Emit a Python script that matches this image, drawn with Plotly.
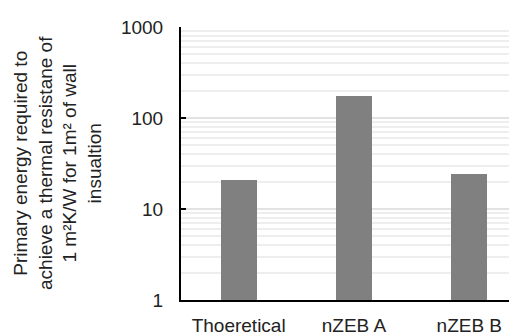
import plotly.graph_objects as go

categories = ["Thoeretical", "nZEB A", "nZEB B"]
values = [21, 173, 24]
y_tick_vals = [1, 10, 100, 1000]
y_tick_text = ["1", "10", "100", "1000"]
minor_vals = [m * d for d in (1, 10, 100) for m in range(2, 10)]
y_title = ("Primary energy required to<br>achieve a thermal resistane of<br>"
           "1 m²K/W for 1m² of wall<br>insualtion")

FONT = "Liberation Sans, Arial, sans-serif"

# the page body has an 8px default margin, so the figure is offset by 8px
W, H = 509, 328
ML, MT, MB, MR = 173, 19, 36, 1
plot_w = W - ML - MR

fig = go.Figure(go.Bar(
    x=categories, y=values,
    marker=dict(color="#808080", line=dict(width=0)),
    width=0.31,
))

fig.update_layout(
    width=W, height=H,
    margin=dict(l=ML, r=MR, t=MT, b=MB, autoexpand=False),
    paper_bgcolor="white", plot_bgcolor="white",
    font=dict(family=FONT, size=19, color="#222222"),
    showlegend=False,
    bargap=0,
)

fig.update_xaxes(
    type="category",
    range=[-0.5, 2.405],
    automargin=False,
    showline=True, linecolor="black", linewidth=2,
    showgrid=False, ticks="",
    ticklabelstandoff=7,
    tickfont=dict(size=19, family=FONT, color="#222222"),
)

fig.update_yaxes(
    type="log",
    range=[0, 3],
    automargin=False,
    tickvals=y_tick_vals, ticktext=y_tick_text,
    showline=True, linecolor="black", linewidth=2,
    ticks="inside", ticklen=5, tickwidth=2, tickcolor="black",
    showgrid=True, gridcolor="#e2e2e2", gridwidth=1.5,
    minor=dict(tickvals=minor_vals, showgrid=True, gridcolor="#eeeeee",
               gridwidth=1.5, ticks=""),
    ticklabelstandoff=12,
    tickfont=dict(size=19, family=FONT, color="#222222"),
    zeroline=False,
)

fig.add_annotation(
    text=y_title,
    xref="paper", yref="paper",
    x=(57.5 - 8 - ML) / plot_w, y=0.5,
    xanchor="center", yanchor="middle",
    textangle=-90, showarrow=False,
    font=dict(size=19, family=FONT, color="#222222"),
)

fig.write_html("out.html")
